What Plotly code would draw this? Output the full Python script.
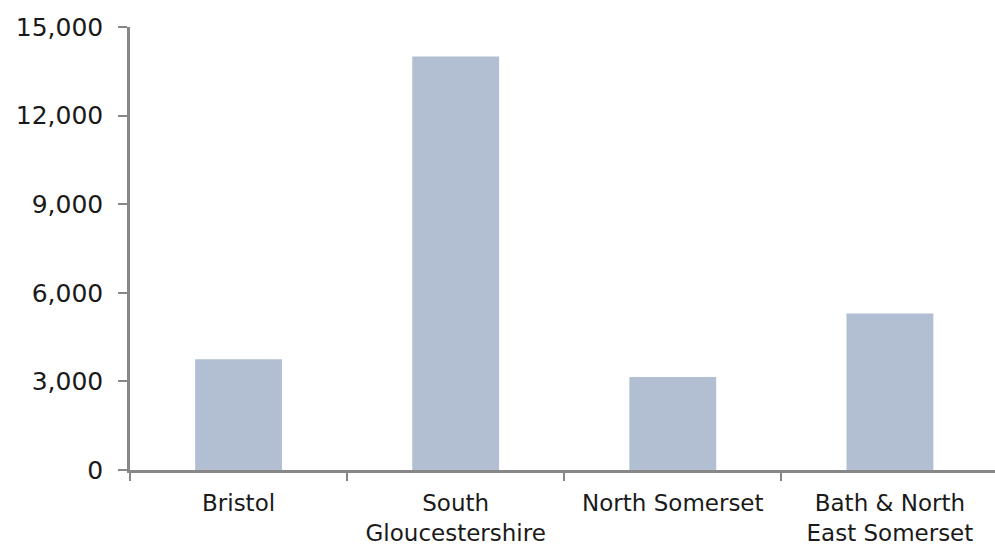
import plotly.graph_objects as go

# Categories and values
areas = ["Bristol", "South<br>Gloucestershire", "North Somerset", "Bath & North<br>East Somerset"]
values = [3750, 14000, 3150, 5300]
y_ticks = [0, 3000, 6000, 9000, 12000, 15000]
y_tick_text = ["0", "3,000", "6,000", "9,000", "12,000", "15,000"]

BAR = "#B2BED2"
AXIS = "#878787"
TEXT = "#1a1a1a"
FONT = "DejaVu Sans"

fig = go.Figure(
    go.Bar(
        x=areas,
        y=values,
        marker=dict(color=BAR, line=dict(width=0)),
        width=0.4,
    )
)

fig.update_layout(
    width=995,
    height=550,
    margin=dict(l=130, r=0, t=27, b=80),
    paper_bgcolor="white",
    plot_bgcolor="white",
    showlegend=False,
    font=dict(family=FONT, color=TEXT),
)

fig.update_xaxes(
    type="category",
    range=[-0.5, 3.484],
    showgrid=False,
    showline=True,
    linecolor=AXIS,
    linewidth=2.5,
    ticks="outside",
    tickson="boundaries",
    ticklen=8,
    tickwidth=2,
    tickcolor=AXIS,
    ticklabelstandoff=11,
    tickfont=dict(size=23, color=TEXT, family=FONT),
)

fig.update_yaxes(
    range=[0, 15000],
    tickvals=y_ticks,
    ticktext=y_tick_text,
    showgrid=False,
    zeroline=False,
    showline=True,
    linecolor=AXIS,
    linewidth=2.5,
    ticks="outside",
    ticklen=9,
    tickwidth=2,
    tickcolor=AXIS,
    ticklabelstandoff=10,
    tickfont=dict(size=25, color=TEXT, family=FONT),
)

fig.write_html("out.html")
